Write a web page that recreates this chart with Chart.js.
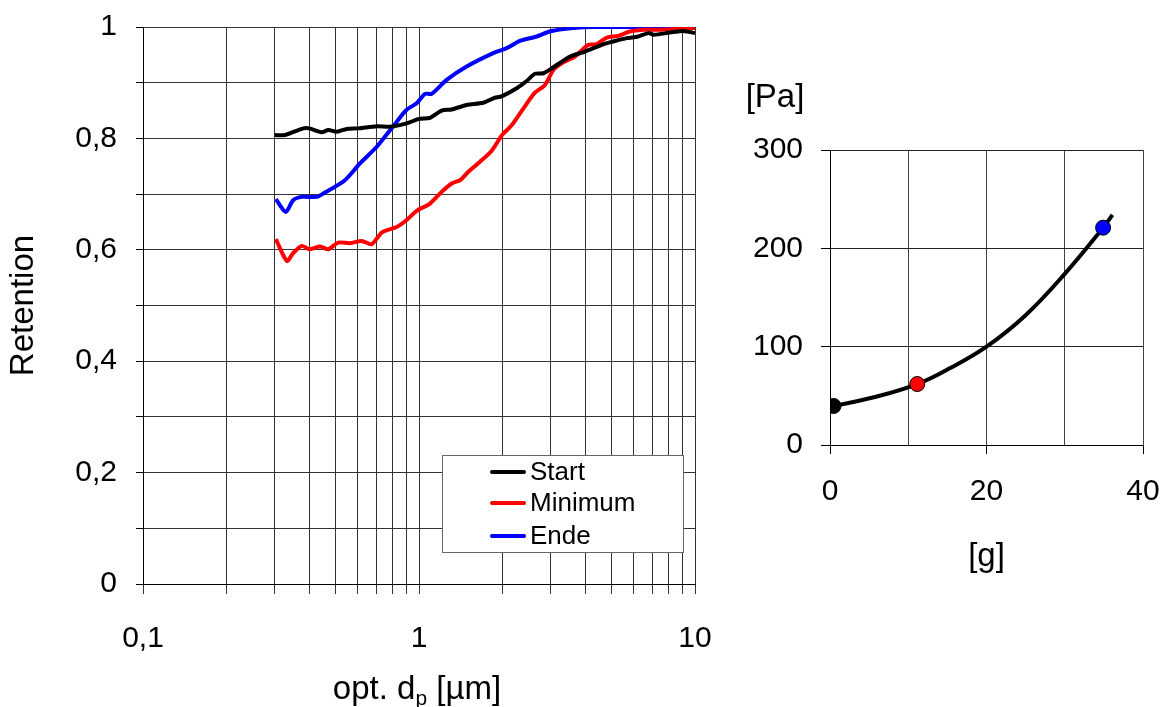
<!DOCTYPE html>
<html>
<head>
<meta charset="utf-8">
<script src="https://cdn.jsdelivr.net/npm/chart.js@4"></script>
<style>
  body { margin: 0; background: #fff; }
  #wrap { position: relative; width: 1166px; height: 707px; }
  #retChart { position: absolute; left: 0; top: 0; }
  #paChart { position: absolute; left: 720px; top: 0; }
</style>
</head>
<body>
<div id="wrap">
  <canvas id="retChart" width="720" height="707"></canvas>
  <canvas id="paChart" width="446" height="581"></canvas>
</div>
<script>
// Retention ueber opt. Partikeldurchmesser (log-Achse)
const startX = [0.30, 0.327, 0.381, 0.40, 0.444, 0.469, 0.504, 0.547, 0.603, 0.703, 0.785, 0.902, 1.0, 1.096, 1.208, 1.314, 1.488, 1.71, 1.858, 2.0, 2.26, 2.455, 2.63, 2.82, 3.03, 3.53, 4.0, 4.65, 5.06, 5.66, 6.23, 6.78, 7.1, 8.1, 9.07, 10];
const startY = [0.806, 0.806, 0.818, 0.818, 0.811, 0.815, 0.812, 0.817, 0.818, 0.822, 0.821, 0.827, 0.835, 0.837, 0.850, 0.852, 0.860, 0.864, 0.872, 0.876, 0.890, 0.903, 0.916, 0.917, 0.926, 0.947, 0.956, 0.969, 0.974, 0.980, 0.983, 0.989, 0.986, 0.990, 0.993, 0.989];

const minX = [0.303, 0.332, 0.350, 0.376, 0.40, 0.438, 0.469, 0.510, 0.562, 0.62, 0.674, 0.733, 0.83, 0.9, 0.981, 1.096, 1.208, 1.314, 1.408, 1.509, 1.663, 1.834, 2.0, 2.17, 2.39, 2.63, 2.86, 3.07, 3.29, 3.67, 4.11, 4.40, 4.79, 5.27, 5.81, 6.6, 7.5, 10];
const minY = [0.619, 0.580, 0.594, 0.607, 0.601, 0.606, 0.601, 0.613, 0.612, 0.616, 0.610, 0.631, 0.641, 0.653, 0.670, 0.683, 0.704, 0.719, 0.725, 0.740, 0.758, 0.778, 0.806, 0.824, 0.854, 0.882, 0.896, 0.923, 0.935, 0.947, 0.968, 0.969, 0.981, 0.984, 0.992, 0.995, 0.995, 0.998];

const endeX = [0.303, 0.329, 0.350, 0.376, 0.426, 0.45, 0.539, 0.611, 0.703, 0.807, 0.9, 0.981, 1.051, 1.111, 1.259, 1.488, 1.858, 2.078, 2.32, 2.67, 2.98, 3.62, 4.3, 10];
const endeY = [0.691, 0.668, 0.689, 0.695, 0.695, 0.701, 0.725, 0.755, 0.785, 0.822, 0.851, 0.863, 0.880, 0.880, 0.905, 0.929, 0.953, 0.962, 0.975, 0.983, 0.992, 0.998, 1.0, 1.0];

const seriesNames = ['Start', 'Minimum', 'Ende'];
const seriesColors = ['#000000', '#ff0000', '#0000ff'];

// Gitterlinien der log-Achse und beschriftete Werte
const xGridValues = [0.1, 0.2, 0.3, 0.4, 0.5, 0.6, 0.7, 0.8, 0.9, 1, 2, 3, 4, 5, 6, 7, 8, 9, 10];
const xLabelValues = [0.1, 1, 10];
const xLabelTexts = ['0,1', '1', '10'];

// Druckverlauf [Pa] ueber Beladung [g]
const curveG = [0.45, 5.6, 11.15, 15.3, 20, 25, 30, 34.9, 36.1];
const curvePa = [39.7, 48.5, 62, 78, 100, 132, 174, 221, 234];
const markerG = [0.45, 11.15, 34.9];
const markerPa = [39.7, 62, 221];
const markerColors = ['#000000', '#ff0000', '#0000ff'];

Chart.defaults.font.family = '"Liberation Sans", Arial, sans-serif';
Chart.defaults.color = '#000';
Chart.defaults.animation = false;

const toPoints = (xs, ys) => xs.map((x, i) => ({ x: x, y: ys[i] }));

// Label-Ueberstand nicht in die Zeichenflaeche einrechnen
const noPad = scale => {
  scale.paddingTop = 0;
  scale.paddingBottom = 0;
  scale.paddingLeft = 0;
  scale.paddingRight = 0;
};

// eigene Legende im Diagramm + Achsentitel mit Index
const retExtras = {
  id: 'retExtras',
  afterDraw(chart) {
    const ctx = chart.ctx;
    ctx.save();
    // Legendenkasten
    ctx.fillStyle = '#fff';
    ctx.fillRect(442, 455, 242, 98);
    ctx.strokeStyle = '#666';
    ctx.lineWidth = 1;
    ctx.strokeRect(442.5, 455.5, 241, 97);
    const rows = [472, 503, 536];
    ctx.font = '26px "Liberation Sans", Arial, sans-serif';
    ctx.textBaseline = 'middle';
    ctx.textAlign = 'left';
    chart.data.datasets.forEach((ds, i) => {
      ctx.strokeStyle = ds.borderColor;
      ctx.lineWidth = 4;
      ctx.lineCap = 'round';
      ctx.beginPath();
      ctx.moveTo(492, rows[i]);
      ctx.lineTo(524, rows[i]);
      ctx.stroke();
      ctx.fillStyle = '#000';
      ctx.fillText(ds.label, 530, rows[i] + 1);
    });
    // x-Achsentitel: opt. d_p [µm]
    const big = '33px "Liberation Sans", Arial, sans-serif';
    const small = '21px "Liberation Sans", Arial, sans-serif';
    ctx.font = big;
    const w1 = ctx.measureText('opt. d').width;
    const w3 = ctx.measureText(' [µm]').width;
    ctx.font = small;
    const w2 = ctx.measureText('p').width;
    let x = 417 - (w1 + w2 + w3) / 2;
    const base = 699;
    ctx.textBaseline = 'alphabetic';
    ctx.font = big;
    ctx.fillText('opt. d', x, base);
    x += w1;
    ctx.font = small;
    ctx.fillText('p', x, base + 6);
    x += w2;
    ctx.font = big;
    ctx.fillText(' [µm]', x, base);
    ctx.restore();
  }
};

new Chart(document.getElementById('retChart'), {
  type: 'line',
  data: {
    datasets: [
      { label: seriesNames[0], data: toPoints(startX, startY), borderColor: seriesColors[0] },
      { label: seriesNames[1], data: toPoints(minX, minY), borderColor: seriesColors[1] },
      { label: seriesNames[2], data: toPoints(endeX, endeY), borderColor: seriesColors[2] }
    ]
  },
  options: {
    responsive: false,
    layout: { padding: { top: 27, right: 25, left: 0, bottom: 0 } },
    elements: {
      line: { borderWidth: 4, tension: 0.25, fill: false },
      point: { radius: 0 }
    },
    plugins: { legend: { display: false }, tooltip: { enabled: false } },
    scales: {
      x: {
        type: 'logarithmic',
        min: 0.1,
        max: 10,
        afterBuildTicks: scale => { scale.ticks = xGridValues.map(v => ({ value: v })); },
        afterFit: scale => { scale.height = 123; noPad(scale); },
        ticks: {
          autoSkip: false,
          maxRotation: 0,
          padding: 27,
          font: { size: 30 },
          callback: value => {
            const k = xLabelValues.findIndex(v => Math.abs(v - value) < 1e-9);
            return k >= 0 ? xLabelTexts[k] : '';
          }
        },
        grid: { color: '#333', lineWidth: 1, tickLength: 10, tickColor: '#333' },
        border: { color: '#000', width: 1 }
      },
      y: {
        min: 0,
        max: 1,
        afterFit: scale => { scale.width = 143; noPad(scale); },
        ticks: {
          stepSize: 0.1,
          padding: 19,
          font: { size: 30 },
          callback: value => {
            const n = Math.round(value * 10);
            if (n % 2 !== 0) return '';
            if (n === 0) return '0';
            if (n === 10) return '1';
            return (n / 10).toFixed(1).replace('.', ',');
          }
        },
        grid: { color: '#333', lineWidth: 1, tickLength: 7, tickColor: '#000' },
        border: { color: '#000', width: 1 },
        title: { display: true, text: 'Retention', font: { size: 33 }, padding: 4 }
      }
    }
  },
  plugins: [retExtras]
});

// Einheit [Pa] ueber der y-Achse
const paLabel = {
  id: 'paLabel',
  afterDraw(chart) {
    const ctx = chart.ctx;
    ctx.save();
    ctx.font = '33px "Liberation Sans", Arial, sans-serif';
    ctx.fillStyle = '#000';
    ctx.textAlign = 'center';
    ctx.textBaseline = 'middle';
    ctx.fillText('[Pa]', 55, 98);
    ctx.restore();
  }
};

new Chart(document.getElementById('paChart'), {
  type: 'scatter',
  data: {
    datasets: [
      {
        label: 'Punkte',
        data: toPoints(markerG, markerPa),
        backgroundColor: markerColors,
        borderColor: '#000',
        borderWidth: 1,
        pointRadius: 7.5,
        showLine: false
      },
      {
        label: 'Verlauf',
        data: toPoints(curveG, curvePa),
        borderColor: '#000',
        borderWidth: 4,
        showLine: true,
        tension: 0.4,
        pointRadius: 0
      }
    ]
  },
  options: {
    responsive: false,
    layout: { padding: { top: 150, right: 23, left: 0, bottom: 0 } },
    plugins: { legend: { display: false }, tooltip: { enabled: false } },
    scales: {
      x: {
        type: 'linear',
        min: 0,
        max: 40,
        afterFit: scale => { scale.height = 136; noPad(scale); },
        ticks: {
          stepSize: 10,
          padding: 20,
          maxRotation: 0,
          font: { size: 30 },
          callback: value => (value % 20 === 0 ? String(value) : '')
        },
        grid: {
          color: '#444',
          tickLength: 9,
          tickColor: ctx => (ctx.tick && ctx.tick.value % 20 === 0 ? '#000' : 'rgba(0,0,0,0)')
        },
        border: { color: '#000', width: 1 },
        title: { display: true, text: '[g]', font: { size: 33 }, padding: 4 }
      },
      y: {
        min: 0,
        max: 300,
        afterFit: scale => { scale.width = 110; noPad(scale); },
        ticks: { stepSize: 100, padding: 18, font: { size: 30 } },
        grid: { color: '#222', tickLength: 9, tickColor: '#000' },
        border: { color: '#000', width: 1 }
      }
    }
  },
  plugins: [paLabel]
});
</script>
</body>
</html>
